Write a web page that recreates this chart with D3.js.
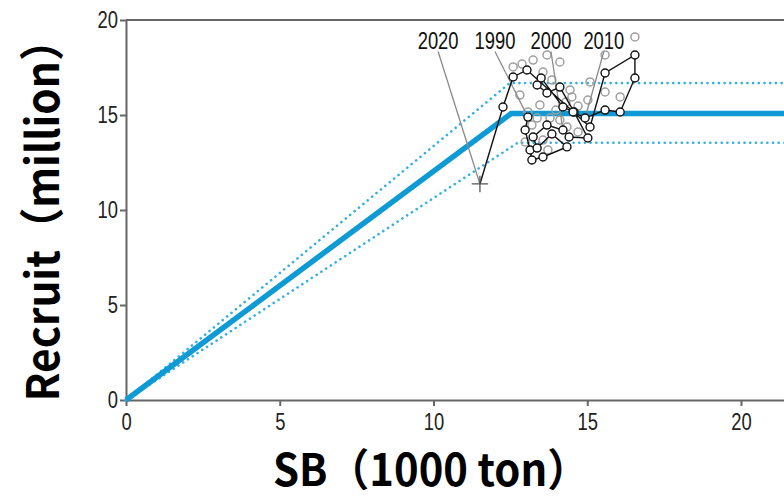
<!DOCTYPE html>
<html>
<head>
<meta charset="utf-8">
<script src="https://cdn.jsdelivr.net/npm/d3@7"></script>
<style>
  html, body { margin: 0; padding: 0; background: #fff; }
  svg { display: block; }
  .tick text { font-family: "Liberation Sans", Arial, sans-serif; font-size: 23px; fill: #222; }
</style>
</head>
<body>
<svg id="svg"></svg>
<script>
// observed stock-recruitment (1990-2020)
const years = d3.range(1990, 2021);
const ssb = [13.07, 12.98, 13.14, 13.20, 13.56, 14.34, 13.85, 13.37, 13.24, 13.69,
             14.21, 14.41, 15.02, 14.57, 14.11, 13.69, 13.37, 13.50, 14.21, 14.54,
             14.93, 15.58, 16.07, 16.55, 16.55, 15.58, 15.09, 13.04, 12.59, 12.26, 11.51];
const recruit = [14.89, 14.21, 13.16, 12.63, 12.79, 13.32, 14.00, 13.26, 13.84, 14.47,
                 14.21, 13.84, 13.79, 15.16, 16.47, 16.16, 16.58, 16.95, 15.42, 15.16,
                 14.84, 15.26, 15.16, 16.95, 18.16, 17.21, 14.37, 17.37, 17.00, 15.42, 11.37];

// grey points (previous assessment)
const greySsb = [16.55, 15.58, 14.11, 13.69, 13.24, 12.88, 12.59, 13.56, 13.85, 14.44,
                 14.50, 14.31, 15.58, 16.07, 13.37, 13.79, 13.20, 14.34, 13.56, 15.02,
                 14.70, 13.98, 12.81, 13.46, 13.07, 14.11, 14.70, 12.98, 13.72, 15.09];
const greyRecruit = [19.11, 18.16, 17.79, 18.16, 17.89, 17.68, 17.53, 17.26, 16.84, 16.32,
                     15.95, 15.68, 16.21, 15.95, 14.84, 14.84, 14.47, 14.37, 13.68, 15.79,
                     15.47, 15.26, 16.05, 15.53, 15.16, 14.74, 14.11, 13.58, 13.16, 16.74];

// hockey-stick fit and its range
const hsX = [0, 12.53, 22];
const hsY = [0, 15.08, 15.08];
const upX = [0, 12.48, 22];
const upY = [0, 16.68, 16.68];
const loX = [0, 12.74, 22];
const loY = [0, 13.54, 13.54];

const labelYears = [2020, 1990, 2000, 2010];
const ticks = [0, 5, 10, 15, 20];

const W = 784, H = 499;
const svg = d3.select('#svg').attr('width', W).attr('height', H);

const x = d3.scaleLinear().domain([0, 22]).range([126, 126 + 22 * 30.75]);
const y = d3.scaleLinear().domain([0, 20]).range([400, 20]);

const axisColor = '#666';
const narrow = 'scale(0.8,1)';

// frame top
svg.append('line')
  .attr('x1', x(0)).attr('x2', x(22))
  .attr('y1', y(20)).attr('y2', y(20))
  .attr('stroke', axisColor).attr('stroke-width', 2);

const gx = svg.append('g')
  .attr('transform', `translate(0,${y(0)})`)
  .call(d3.axisBottom(x).tickValues(ticks).tickSize(6).tickSizeOuter(0).tickPadding(8));
const gy = svg.append('g')
  .attr('transform', `translate(${x(0)},0)`)
  .call(d3.axisLeft(y).tickValues(ticks).tickSize(6).tickSizeOuter(0).tickPadding(4));
[gx, gy].forEach(g => {
  g.select('.domain').attr('stroke', axisColor).attr('stroke-width', 2);
  g.selectAll('.tick line').attr('stroke', axisColor).attr('stroke-width', 2);
  g.selectAll('.tick text').attr('transform', narrow);
});

// fitted lines
const line = d3.line().x(d => x(d[0])).y(d => y(d[1]));
const blue = '#0e9ad4';
svg.append('path')
  .attr('d', line(d3.zip(upX, upY)))
  .attr('fill', 'none').attr('stroke', '#35b0e2').attr('stroke-width', 2.6)
  .attr('stroke-linecap', 'round').attr('stroke-dasharray', '0.1 5.6');
svg.append('path')
  .attr('d', line(d3.zip(loX, loY)))
  .attr('fill', 'none').attr('stroke', '#35b0e2').attr('stroke-width', 2.6)
  .attr('stroke-linecap', 'round').attr('stroke-dasharray', '0.1 5.6');
svg.append('path')
  .attr('d', line(d3.zip(hsX, hsY)))
  .attr('fill', 'none').attr('stroke', blue).attr('stroke-width', 5.5);

// grey points
svg.append('g').selectAll('circle')
  .data(d3.zip(greySsb, greyRecruit))
  .enter().append('circle')
  .attr('cx', d => x(d[0])).attr('cy', d => y(d[1])).attr('r', 4)
  .attr('fill', 'none').attr('stroke', '#a0a0a0').attr('stroke-width', 1.5);

// year labels and leaders
const labelPos = { 2020: [10.15, 18.5], 1990: [12.0, 18.5], 2000: [13.82, 18.5], 2010: [15.54, 18.5] };
const obs = years.map((yr, i) => ({ yr, s: ssb[i], r: recruit[i] }));
labelYears.forEach(yr => {
  const p = obs.find(d => d.yr === yr);
  const lp = labelPos[yr];
  svg.append('line')
    .attr('x1', x(lp[0])).attr('y1', y(lp[1]) + 3)
    .attr('x2', x(p.s)).attr('y2', y(p.r))
    .attr('stroke', '#8a8a8a').attr('stroke-width', 1.3);
  svg.append('text')
    .attr('transform', `translate(${x(lp[0])},${y(lp[1])}) ${narrow}`)
    .attr('text-anchor', 'middle')
    .style('font-family', '"Liberation Sans", Arial, sans-serif')
    .style('font-size', '23px').attr('fill', '#111')
    .text(yr);
});

// observed trajectory
svg.append('path')
  .attr('d', line(obs.map(d => [d.s, d.r])))
  .attr('fill', 'none').attr('stroke', '#111').attr('stroke-width', 1.4);
svg.append('g').selectAll('circle')
  .data(obs.slice(0, -1))
  .enter().append('circle')
  .attr('cx', d => x(d.s)).attr('cy', d => y(d.r)).attr('r', 4)
  .attr('fill', '#fff').attr('stroke', '#111').attr('stroke-width', 1.4);
const last = obs[obs.length - 1];
svg.append('path')
  .attr('transform', `translate(${x(last.s)},${y(last.r)})`)
  .attr('d', d3.symbol(d3.symbolPlus, 90)())
  .attr('fill', 'none').attr('stroke', '#555').attr('stroke-width', 1.3);

// axis titles
const titleFont = '"Noto Sans CJK JP", "Noto Sans", sans-serif';
svg.append('text')
  .attr('transform', 'translate(431,486) scale(0.95,1)')
  .attr('text-anchor', 'middle')
  .style('font-family', titleFont).style('font-weight', 'bold').style('font-size', '44px')
  .text('SB（1000 ton）');
svg.append('text')
  .attr('transform', 'translate(59,210) rotate(-90) scale(0.94,1)')
  .attr('text-anchor', 'middle')
  .style('font-family', titleFont).style('font-weight', 'bold').style('font-size', '45px')
  .text('Recruit（million）');
</script>
</body>
</html>
